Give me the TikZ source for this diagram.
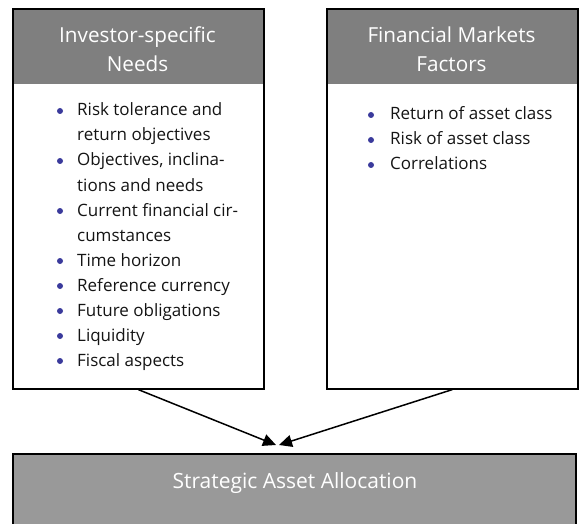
\documentclass[tikz,border=0pt]{standalone}
\usepackage{fontspec}
\setmainfont{Open Sans}
\usetikzlibrary{arrows.meta}
\definecolor{hdrgray}{HTML}{7F7F7F}
\definecolor{boxgray}{HTML}{999999}
\definecolor{bulletblue}{HTML}{3A3A9C}
\definecolor{txt}{HTML}{141414}
\tikzset{
  hdr/.style={fill=hdrgray, draw=none, minimum width=251pt, minimum height=76pt,
    anchor=north west, inner sep=0pt},
  hdrtext/.style={text=white, align=center, font=\fontsize{20.7}{29}\selectfont, inner sep=0pt},
  panel/.style={draw=black, line width=1.6pt, minimum width=251pt, minimum height=380pt,
    anchor=north west, inner sep=0pt},
  bottombox/.style={draw=black, fill=boxgray, line width=1.6pt, minimum width=563pt,
    minimum height=73pt, anchor=north west, inner sep=0pt},
  itemtext/.style={text=txt, align=left, anchor=base west, inner sep=0pt,
    font=\fontsize{17}{25}\selectfont},
  dot/.style={circle, fill=bulletblue, inner sep=0pt, minimum size=6pt},
  conn/.style={line width=1.5pt, -{Triangle[length=13pt,width=12pt]}}
}
\begin{document}
\begin{tikzpicture}[x=1pt,y=-1pt]
\useasboundingbox (0,0) rectangle (581,524);
% headers
\node[hdr] (LH) at (12,8) {};
\node[hdr] (RH) at (326,8) {};
\node[hdrtext, anchor=base] (LHt1) at (137.5,43) {Investor-specific};
\node[hdrtext, anchor=base] (LHt2) at (137.5,72) {Needs};
\node[hdrtext, anchor=base] (RHt1) at (451.5,43) {Financial Markets};
\node[hdrtext, anchor=base] (RHt2) at (451.5,72) {Factors};
% panels
\node[panel] (L) at (12,8) {};
\node[panel] (R) at (326,8) {};
% left bullets
\foreach \y in {111,161,211,261,286,311,336,361}{
  \node[dot] at (60,\y) {};
}
\node[itemtext] (l1) at (77,141) {Risk tolerance and\\return objectives};
\node[itemtext] (l2) at (77,191) {Objectives, inclina-\\tions and needs};
\node[itemtext] (l3) at (77,241) {Current financial cir-\\cumstances};
\node[itemtext] (l4) at (77,266) {Time horizon};
\node[itemtext] (l5) at (77,291) {Reference currency};
\node[itemtext] (l6) at (77,316) {Future obligations};
\node[itemtext] (l7) at (77,341) {Liquidity};
\node[itemtext] (l8) at (77,366) {Fiscal aspects};
% right bullets
\foreach \y in {115,140,165}{
  \node[dot] at (371,\y) {};
}
\node[itemtext] (r1) at (390,120) {Return of asset class};
\node[itemtext] (r2) at (390,145) {Risk of asset class};
\node[itemtext] (r3) at (390,170) {Correlations};
% bottom box
\node[bottombox] (B) at (12,453) {};
\node[hdrtext, anchor=base, font=\fontsize{21}{29}\selectfont] (Bt) at (295,488) {Strategic Asset Allocation};
% connectors
\coordinate (tipL) at (276,445);
\coordinate (tipR) at (279,445);
\draw[conn] (L.south) -- (tipL);
\draw[conn] (R.south) -- (tipR);
\end{tikzpicture}
\end{document}
